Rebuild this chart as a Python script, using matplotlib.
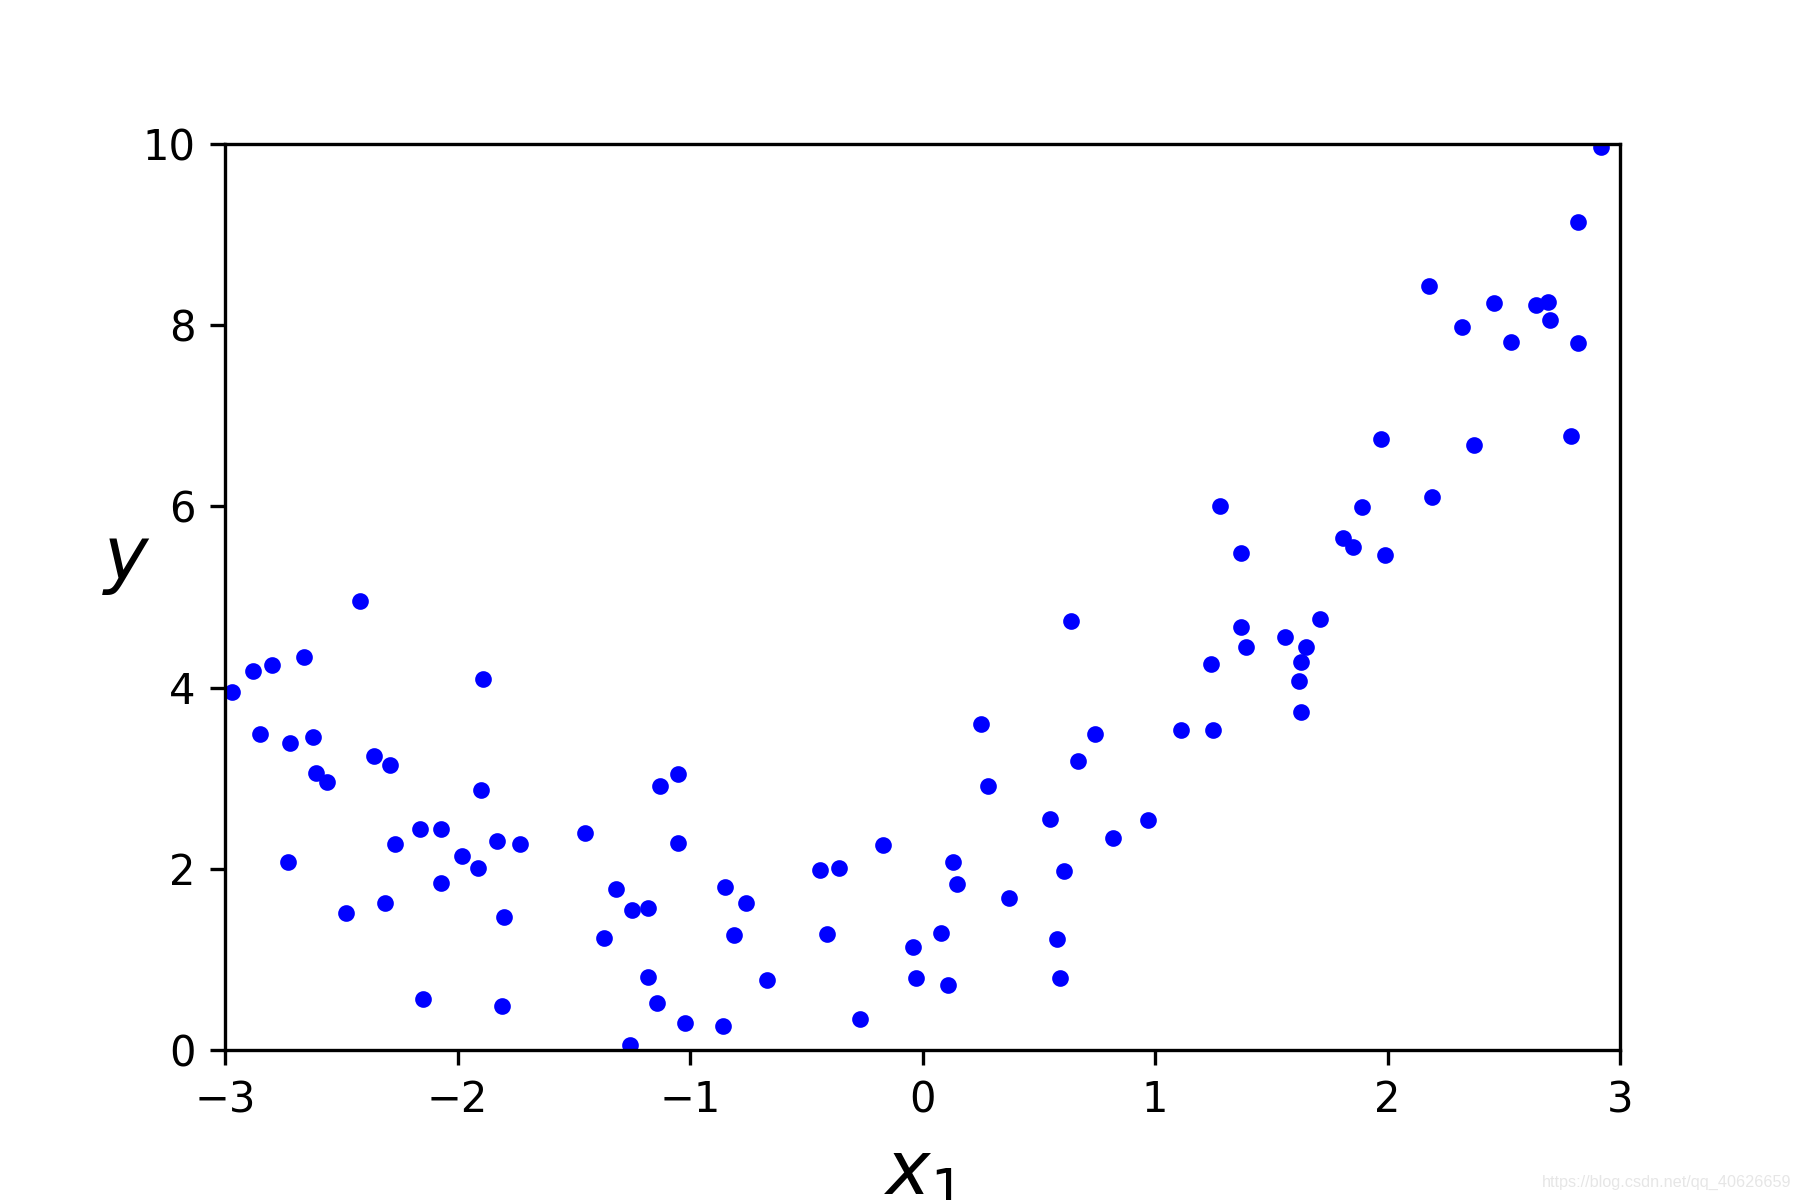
import matplotlib
matplotlib.use("Agg")
import matplotlib.pyplot as plt

# values
X = [-2.97, -2.88, -2.85, -2.80, -2.73, -2.72, -2.66, -2.62, -2.61, -2.56,
     -2.48, -2.42, -2.36, -2.31, -2.29, -2.27, -2.16, -2.15, -2.07, -2.07,
     -1.98, -1.91, -1.90, -1.89, -1.83, -1.81, -1.80, -1.73, -1.45, -1.37,
     -1.32, -1.26, -1.25, -1.18, -1.18, -1.14, -1.13, -1.05, -1.05, -1.02,
     -0.86, -0.85, -0.81, -0.76, -0.67, -0.44, -0.41, -0.36, -0.27, -0.17,
     -0.04, -0.03, 0.08, 0.11, 0.13, 0.15, 0.25, 0.28, 0.37, 0.55,
     0.58, 0.59, 0.61, 0.64, 0.67, 0.74, 0.82, 0.97, 1.11, 1.24,
     1.25, 1.28, 1.37, 1.37, 1.39, 1.56, 1.62, 1.63, 1.63, 1.65,
     1.71, 1.81, 1.85, 1.89, 1.97, 1.99, 2.18, 2.19, 2.32, 2.37,
     2.46, 2.53, 2.64, 2.69, 2.70, 2.79, 2.82, 2.82, 2.92]
y = [3.95, 4.18, 3.49, 4.25, 2.07, 3.39, 4.34, 3.46, 3.06, 2.96,
     1.51, 4.96, 3.25, 1.62, 3.15, 2.27, 2.44, 0.56, 2.44, 1.84,
     2.14, 2.01, 2.87, 4.09, 2.31, 0.49, 1.47, 2.27, 2.40, 1.24,
     1.78, 0.06, 1.54, 0.81, 1.57, 0.52, 2.91, 3.05, 2.28, 0.30,
     0.27, 1.80, 1.27, 1.62, 0.77, 1.99, 1.28, 2.01, 0.34, 2.26,
     1.14, 0.80, 1.29, 0.72, 2.07, 1.83, 3.60, 2.91, 1.68, 2.55,
     1.22, 0.79, 1.98, 4.73, 3.19, 3.49, 2.34, 2.54, 3.53, 4.26,
     3.53, 6.00, 4.67, 5.49, 4.45, 4.56, 4.07, 4.28, 3.73, 4.45,
     4.76, 5.65, 5.55, 5.99, 6.74, 5.46, 8.43, 6.10, 7.98, 6.68,
     8.24, 7.82, 8.22, 8.26, 8.06, 6.78, 9.14, 7.80, 9.97]

fig = plt.figure(figsize=(6, 4), dpi=300)
plt.subplots_adjust(left=0.125, right=0.9, top=0.88, bottom=0.125)
plt.plot(X, y, "b.")
plt.xlabel("$x_1$", fontsize=18)
plt.ylabel("$y$", rotation=0, fontsize=18)
plt.axis([-3, 3, 0, 10])

# faint watermark at bottom right
fig.text(0.995, 0.008, "https://blog.csdn.net/qq_40626659", ha="right", va="bottom",
         fontsize=3.9, color="#e6e6e6", family="Liberation Sans")

plt.savefig("out.png", dpi=300)
plt.close()
